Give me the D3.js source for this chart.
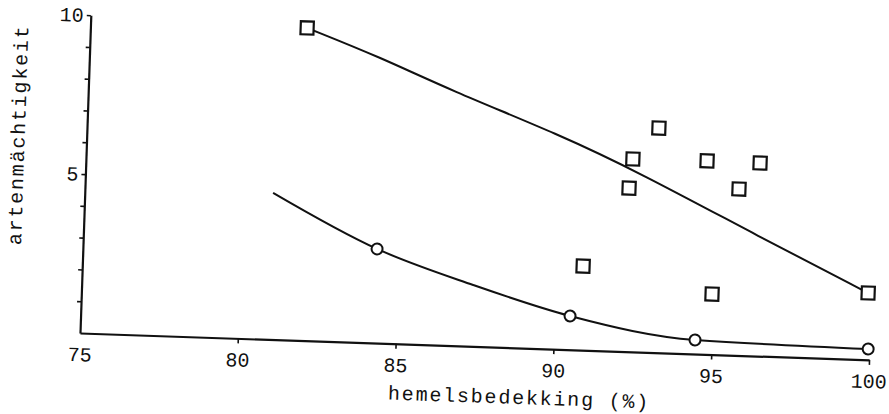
<!DOCTYPE html>
<html>
<head>
<meta charset="utf-8">
<script src="https://cdn.jsdelivr.net/npm/d3@7"></script>
<style>
  body { margin: 0; background: #fff; }
  svg text { font-family: "Liberation Mono", "DejaVu Sans Mono", monospace; fill: #111; font-size: 20px; }
</style>
</head>
<body>
<svg id="chart" width="889" height="414"></svg>
<script>
// quadrats: hemelsbedekking (%) vs artenmächtigkeit
const squareX = [81.86, 93.10, 92.31, 92.22, 94.66, 96.34, 95.70, 90.85, 94.96, 99.90];
const squareY = [9.83, 7.06, 6.06, 5.14, 6.08, 6.07, 5.23, 2.64, 1.90, 2.10];

const circleX = [84.31, 90.49, 94.47, 99.96];
const circleY = [2.96, 1.06, 0.44, 0.34];

// fitted curves
const upperCurveX = [81.86, 84.20, 86.45, 89.98, 92.55, 96.42, 99.90];
const upperCurveY = [9.83, 8.99, 8.03, 6.74, 5.63, 3.74, 2.10];
const lowerCurveX = [80.96, 84.31, 87.39, 90.49, 94.47, 99.96];
const lowerCurveY = [4.61, 2.96, 1.93, 1.06, 0.44, 0.34];

const xTicks = [75, 80, 85, 90, 95, 100];
const yTicks = [1, 2, 3, 4, 5, 6, 7, 8, 9, 10];
const yLabelled = [5, 10];

const svg = d3.select('#chart');
// the scan is slightly rotated
const chart = svg.append('g').attr('transform', 'translate(80,333) rotate(1.95)');

const x = d3.scaleLinear().domain([75, 100]).range([0, 789.5]);
const y = d3.scaleLinear().domain([0, 10]).range([0, -318]);

const xAxis = chart.append('g')
  .call(d3.axisBottom(x).tickValues(xTicks).tickSize(5).tickSizeOuter(0).tickPadding(9));
xAxis.select('.domain').attr('stroke', '#111').attr('stroke-width', 2.2);
xAxis.selectAll('.tick line').attr('stroke', '#111').attr('stroke-width', 1.6)
  .filter(d => d === 75).remove();

const yAxis = chart.append('g')
  .call(d3.axisLeft(y).tickValues(yTicks).tickSize(4).tickSizeOuter(0).tickPadding(3)
    .tickFormat(d => yLabelled.includes(d) ? d : ''));
yAxis.select('.domain').attr('stroke', '#111').attr('stroke-width', 2.2);
yAxis.selectAll('.tick line').attr('stroke', '#111').attr('stroke-width', 1.6);

const line = d3.line().x(d => x(d[0])).y(d => y(d[1]));

chart.append('path')
  .attr('d', line.curve(d3.curveBasis)(d3.zip(upperCurveX, upperCurveY)))
  .attr('fill', 'none')
  .attr('stroke', '#111')
  .attr('stroke-width', 2);

chart.append('path')
  .attr('d', line.curve(d3.curveMonotoneX)(d3.zip(lowerCurveX, lowerCurveY)))
  .attr('fill', 'none')
  .attr('stroke', '#111')
  .attr('stroke-width', 2);

chart.selectAll('rect.sq')
  .data(d3.zip(squareX, squareY))
  .join('rect')
  .attr('class', 'sq')
  .attr('x', d => x(d[0]) - 6.5)
  .attr('y', d => y(d[1]) - 6.5)
  .attr('width', 13)
  .attr('height', 13)
  .attr('fill', '#fff')
  .attr('stroke', '#111')
  .attr('stroke-width', 2.2);

chart.selectAll('circle.pt')
  .data(d3.zip(circleX, circleY))
  .join('circle')
  .attr('class', 'pt')
  .attr('cx', d => x(d[0]))
  .attr('cy', d => y(d[1]))
  .attr('r', 5.5)
  .attr('fill', '#fff')
  .attr('stroke', '#111')
  .attr('stroke-width', 2);

chart.append('text')
  .attr('transform', 'translate(-62,-196) rotate(-90)')
  .attr('text-anchor', 'middle')
  .style('letter-spacing', '1.8px')
  .text('artenmächtigkeit');

chart.append('text')
  .attr('x', 441)
  .attr('y', 56)
  .attr('text-anchor', 'middle')
  .style('letter-spacing', '1.8px')
  .text('hemelsbedekking (%)');
</script>
</body>
</html>
